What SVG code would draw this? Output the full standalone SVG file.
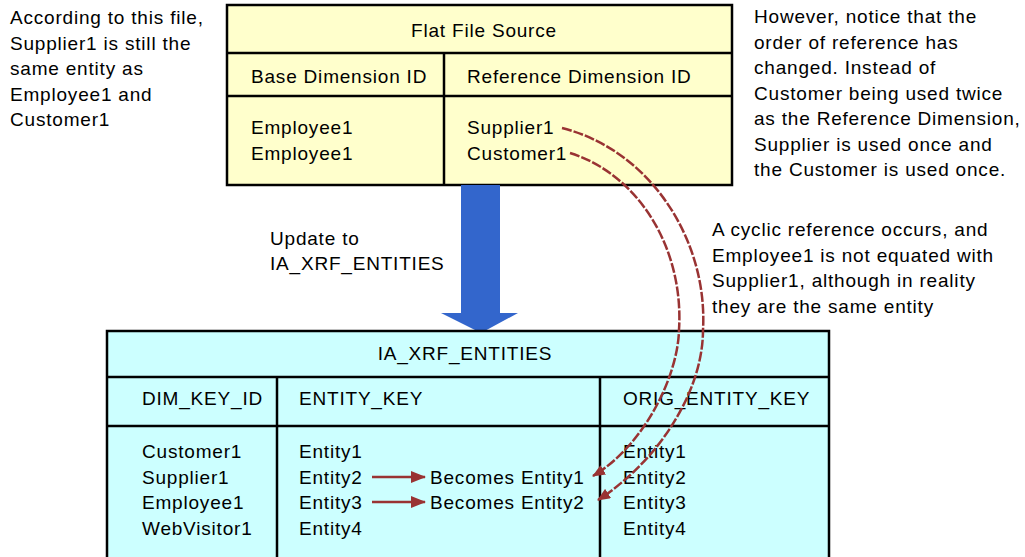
<svg xmlns="http://www.w3.org/2000/svg" width="1025" height="557" viewBox="0 0 1025 557">
<style>
text{font-family:"Liberation Sans",Arial,sans-serif;font-size:19px;letter-spacing:0.8px;fill:#000}
.mid{text-anchor:middle}
.tbl{stroke:#000;stroke-width:2.5}
.ln{stroke:#000;stroke-width:2.5;fill:none}
.red{stroke:#993333;stroke-width:2.5;fill:none}
.dash{stroke-dasharray:10 2}
</style>
<defs>
<marker id="ah" viewBox="0 0 15 12" refX="14" refY="6" markerWidth="15" markerHeight="12" orient="auto" markerUnits="userSpaceOnUse">
<path d="M0,0 L15,6 L0,12 z" fill="#993333"/>
</marker>
<marker id="ahc" viewBox="0 0 13 11" refX="12" refY="5.5" markerWidth="13" markerHeight="11" orient="auto" markerUnits="userSpaceOnUse">
<path d="M0,0 L13,5.5 L0,11 z" fill="#993333"/>
</marker>
</defs>
<rect width="1025" height="557" fill="#fff"/>

<g id="note-left">
<text x="10" y="24">According to this file,</text>
<text x="10" y="49.5">Supplier1 is still the</text>
<text x="10" y="75">same entity as</text>
<text x="10" y="100.5">Employee1 and</text>
<text x="10" y="126">Customer1</text>
</g>

<g id="note-right">
<text x="754" y="23">However, notice that the</text>
<text x="754" y="48.5">order of reference has</text>
<text x="754" y="74">changed. Instead of</text>
<text x="754" y="99.5">Customer being used twice</text>
<text x="754" y="125">as the Reference Dimension,</text>
<text x="754" y="150.5">Supplier is used once and</text>
<text x="754" y="176">the Customer is used once.</text>
</g>

<g id="note-cyclic">
<text x="712" y="236">A cyclic reference occurs, and</text>
<text x="712" y="261.5">Employee1 is not equated with</text>
<text x="712" y="287">Supplier1, although in reality</text>
<text x="712" y="312.5">they are the same entity</text>
</g>

<g id="flat-file-source">
<rect x="227" y="5" width="505" height="180" fill="#FFFFCC" class="tbl"/>
<line x1="227" y1="53" x2="732" y2="53" class="ln"/>
<line x1="227" y1="96" x2="732" y2="96" class="ln"/>
<line x1="444" y1="53" x2="444" y2="185" class="ln"/>
<text x="484" y="37" class="mid">Flat File Source</text>
<text x="251" y="83">Base Dimension ID</text>
<text x="467" y="83">Reference Dimension ID</text>
<text x="251" y="134">Employee1</text>
<text x="251" y="160">Employee1</text>
<text x="467" y="134">Supplier1</text>
<text x="467" y="160">Customer1</text>
</g>

<g id="update-arrow">
<path d="M461,185 L500,185 L500,313 L518,313 L481,333 L441,313 L461,313 z" fill="#3366CC"/>
<text x="270" y="245">Update to</text>
<text x="270" y="270">IA_XRF_ENTITIES</text>
</g>

<g id="ia-xrf-entities">
<rect x="107" y="331" width="722" height="240" fill="#CCFFFF" class="tbl"/>
<line x1="107" y1="377" x2="829" y2="377" class="ln"/>
<line x1="107" y1="426" x2="829" y2="426" class="ln"/>
<line x1="277" y1="377" x2="277" y2="571" class="ln"/>
<line x1="600" y1="377" x2="600" y2="571" class="ln"/>
<text x="465" y="360" class="mid">IA_XRF_ENTITIES</text>
<text x="142" y="405">DIM_KEY_ID</text>
<text x="299" y="405">ENTITY_KEY</text>
<text x="623" y="405">ORIG_ENTITY_KEY</text>
<text x="142" y="458">Customer1</text>
<text x="142" y="483.5">Supplier1</text>
<text x="142" y="509">Employee1</text>
<text x="142" y="534.5">WebVisitor1</text>
<text x="299" y="458">Entity1</text>
<text x="299" y="483.5">Entity2</text>
<text x="299" y="509">Entity3</text>
<text x="299" y="534.5">Entity4</text>
<text x="430" y="483.5">Becomes Entity1</text>
<text x="430" y="509">Becomes Entity2</text>
<text x="623" y="458">Entity1</text>
<text x="623" y="483.5">Entity2</text>
<text x="623" y="509">Entity3</text>
<text x="623" y="534.5">Entity4</text>
</g>

<g id="connectors">
<line x1="372" y1="477" x2="425" y2="477" class="red" marker-end="url(#ah)"/>
<line x1="372" y1="502" x2="425" y2="502" class="red" marker-end="url(#ah)"/>
<path d="M562,128 C650,150 708,240 703,330 C703,390 660,460 598,500" class="red dash" marker-end="url(#ahc)"/>
<path d="M570,153 C640,175 684,250 679,330 C678,375 645,445 593,476" class="red dash" marker-end="url(#ahc)"/>
</g>
</svg>
